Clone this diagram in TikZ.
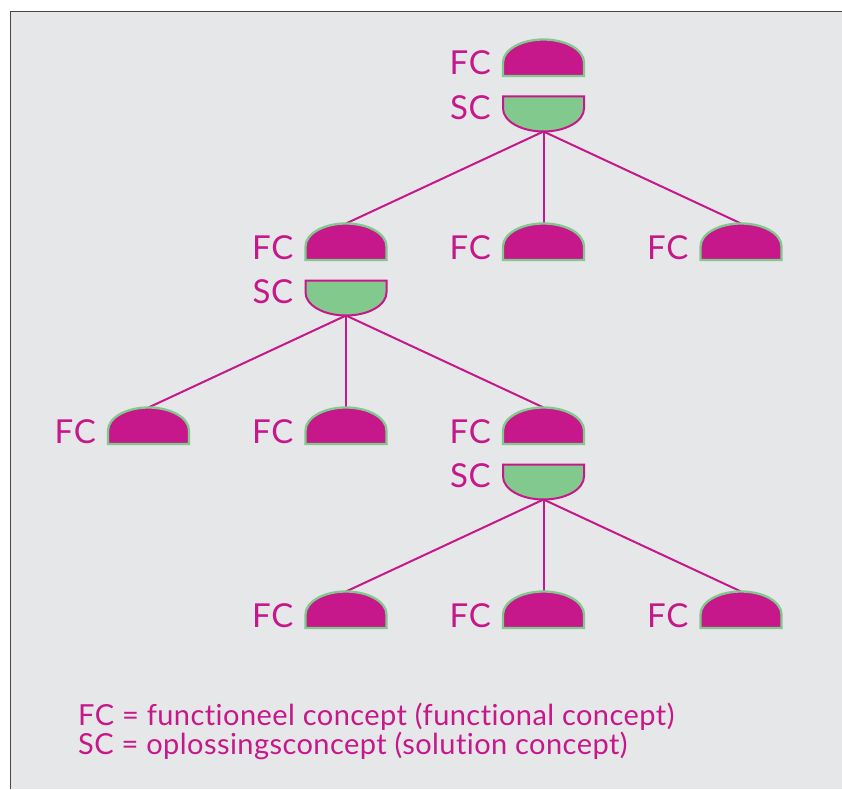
\documentclass[tikz,border=0pt]{standalone}
\usepackage{fontspec}
\setmainfont{Lato}[Ligatures=NoCommon]
\definecolor{mag}{RGB}{198,24,138}
\definecolor{grn}{RGB}{130,201,141}
\definecolor{bgc}{RGB}{230,231,232}
\definecolor{framec}{RGB}{70,70,70}
\tikzset{
 fcbox/.style={minimum width=81pt, minimum height=36.5pt, inner sep=0pt, outer sep=0pt, anchor=south},
 scbox/.style={minimum width=81pt, minimum height=35pt, inner sep=0pt, outer sep=0pt, anchor=north},
 fcpath/.style={fill=mag, draw=grn, line width=2.3pt},
 scpath/.style={fill=grn, draw=mag, line width=2pt},
 lbl/.style={text=mag, font=\fontsize{33}{36}\selectfont\addfontfeatures{LetterSpace=2}, inner sep=0pt, anchor=base east},
 link/.style={color=mag, line width=2pt},
 legend/.style={text=mag, font=\fontsize{29}{26}\selectfont\addfontfeatures{LetterSpace=1.5}, inner sep=0pt, anchor=base west, align=left}
}
\newcommand\fcdome[1]{%
 \path[fcpath] (#1.south west) -- ([yshift=13.5pt]#1.south west) .. controls +(0pt,12.7pt) and +(-22.4pt,0pt) .. (#1.north) .. controls +(22.4pt,0pt) and +(0pt,12.7pt) .. ([yshift=13.5pt]#1.south east) -- (#1.south east) -- cycle;
 \node[lbl] at ([xshift=-12pt, yshift=1pt]#1.south west) {FC};}
\newcommand\scbowl[1]{%
 \path[scpath] (#1.north west) -- (#1.north east) -- ([yshift=-12pt]#1.north east) .. controls +(0pt,-12.7pt) and +(22.4pt,0pt) .. (#1.south) .. controls +(-22.4pt,0pt) and +(0pt,-12.7pt) .. ([yshift=-12pt]#1.north west) -- cycle;
 \node[lbl] at ([xshift=-12pt, yshift=-23pt]#1.north west) {SC};}
\begin{document}
\begin{tikzpicture}[x=1pt,y=-1pt]
\useasboundingbox (0,0) rectangle (842,789);
\fill[white] (0,0) rectangle (842,789);
\fill[bgc] (10.5,11.5) rectangle (842,789);
\draw[framec, line width=1.5pt] (10.5,789) -- (10.5,11.5) -- (842,11.5);
% nodes
\node[fcbox] (r) at (543.5,76) {};
\node[scbox] (rs) at (543.5,96.5) {};
\node[fcbox] (a1) at (346,260) {};
\node[scbox] (a1s) at (346,280.5) {};
\node[fcbox] (a2) at (543.5,260) {};
\node[fcbox] (a3) at (741,260) {};
\node[fcbox] (b1) at (148.5,444) {};
\node[fcbox] (b2) at (346,444) {};
\node[fcbox] (b3) at (543.5,444) {};
\node[scbox] (b3s) at (543.5,464.5) {};
\node[fcbox] (c1) at (346,628) {};
\node[fcbox] (c2) at (543.5,628) {};
\node[fcbox] (c3) at (741,628) {};
% connectors
\foreach \p/\c in {rs/a1, rs/a2, rs/a3, a1s/b1, a1s/b2, a1s/b3, b3s/c1, b3s/c2, b3s/c3}
  \draw[link] (\p.south) -- (\c.north);
% shapes
\foreach \n in {r, a1, a2, a3, b1, b2, b3, c1, c2, c3} {\fcdome{\n}}
\foreach \n in {rs, a1s, b3s} {\scbowl{\n}}
% legend
\node[legend] (leg) at (78,754.3) {FC = functioneel concept (functional concept)\\SC = oplossingsconcept (solution concept)};
\end{tikzpicture}
\end{document}
